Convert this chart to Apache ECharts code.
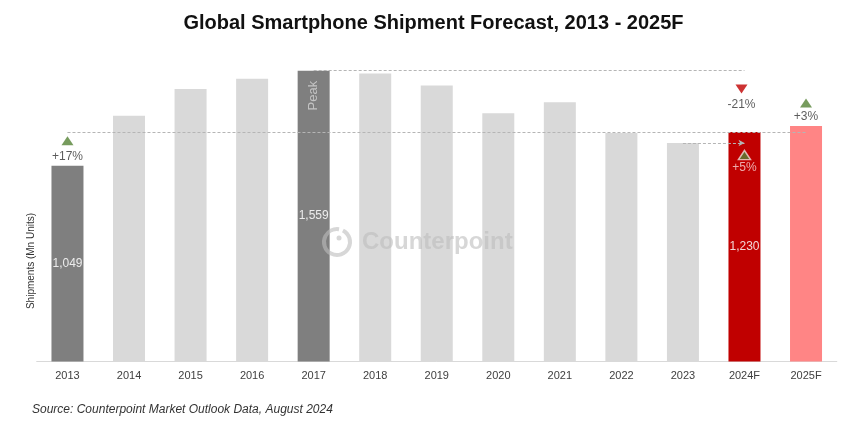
<!DOCTYPE html>
<html>
<head>
<meta charset="utf-8">
<script src="https://cdn.jsdelivr.net/npm/echarts@6/dist/echarts.min.js"></script>
<style>
html,body{margin:0;padding:0;background:#fff;}
#c{width:867px;height:433px;}
</style>
</head>
<body>
<div id="c"></div>
<script>
// ---- data ----
const categories = ['2013','2014','2015','2016','2017','2018','2019','2020','2021','2022','2023','2024F','2025F'];
const shipments = [1049, 1317, 1460, 1515, 1559, 1544, 1480, 1330, 1389, 1225, 1171, 1230, 1262];
const valueLabelCats = ['2013', '2017', '2024F'];
const peakCat = '2017';
const growthCats = ['2013', '2024F', '2024F', '2025F'];
const growthTexts = ['+17%', '-21%', '+5%', '+3%'];
const growthDirs = ['up', 'down', 'up', 'up'];
const titleText = 'Global Smartphone Shipment Forecast, 2013 - 2025F';
const yAxisName = 'Shipments (Mn Units)';
const sourceText = 'Source: Counterpoint Market Outlook Data, August 2024';

// ---- styles ----
const FONT = '"Liberation Sans", Arial, sans-serif';
function barColor(c) {
  if (c === '2013' || c === '2017') return '#7f7f7f';
  if (c === '2024F') return '#c00000';
  if (c === '2025F') return '#ff8585';
  return '#d9d9d9';
}
const idx = c => categories.indexOf(c);

// triangle / text offsets (px) relative to each bar top
const triOffsets = [[0,-25],[-3,-43],[0,23],[0,-23]];
const txtOffsets = [[0,-9],[-3,-27],[0,36],[0,-9]];

const barData = shipments.map((v, i) => {
  const c = categories[i];
  const show = valueLabelCats.indexOf(c) >= 0;
  return {
    value: v,
    itemStyle: { color: barColor(c) },
    label: {
      show: show,
      position: 'inside',
      formatter: p => p.value.toLocaleString('en-US'),
      color: c === '2024F' ? '#f3d6d6' : '#ececec',
      fontSize: 12,
      fontFamily: FONT
    }
  };
});

const triData = growthCats.map((c, k) => ({
  value: [idx(c), shipments[idx(c)]],
  symbol: 'triangle',
  symbolSize: [12, 9],
  symbolRotate: growthDirs[k] === 'down' ? 180 : 0,
  symbolOffset: triOffsets[k],
  itemStyle: growthDirs[k] === 'down'
    ? { color: '#c00000' }
    : (c === '2024F' ? { color: '#548235', borderColor: '#f2dada', borderWidth: 1.5 } : { color: '#548235' })
}));

const txtData = growthCats.map((c, k) => ({
  name: growthTexts[k],
  value: [idx(c), shipments[idx(c)]],
  label: {
    offset: txtOffsets[k],
    color: (c === '2024F' && growthDirs[k] === 'up') ? '#f6d4d4' : '#333333'
  }
}));

const lineStyleDash = { color: '#b5b5b5', type: [3, 2], width: 1 };
const WM = '#bdbdbd';

const chart = echarts.init(document.getElementById('c'), null, { renderer: 'canvas' });
chart.setOption({
  animation: false,
  backgroundColor: '#ffffff',
  title: {
    text: titleText,
    left: 'center',
    top: 8,
    textStyle: { fontSize: 20, fontWeight: 'bold', color: '#111111', fontFamily: FONT }
  },
  grid: { left: 36.7, right: 30.2, top: 63, bottom: 71.5 },
  xAxis: {
    type: 'category',
    data: categories,
    axisLine: { lineStyle: { color: '#d9d9d9', width: 1 } },
    axisTick: { show: false },
    axisLabel: { color: '#404040', fontSize: 11, margin: 9, fontFamily: FONT }
  },
  yAxis: {
    type: 'value',
    min: 0,
    max: 1600,
    show: false,
    splitLine: { show: false }
  },
  graphic: [
    {
      type: 'text',
      x: 31,
      y: 261,
      rotation: Math.PI / 2,
      style: {
        text: yAxisName,
        fill: '#333333',
        font: '10px ' + FONT,
        align: 'center',
        verticalAlign: 'middle'
      }
    },
    {
      type: 'text',
      left: 32,
      top: 404,
      style: {
        text: sourceText,
        fill: '#333333',
        font: 'italic 12px ' + FONT
      }
    },
    {
      type: 'arc',
      z: 100,
      zlevel: 1,
      shape: { cx: 337, cy: 242, r: 13, startAngle: -Math.PI * 0.35, endAngle: Math.PI * 1.55 },
      style: { stroke: WM, lineWidth: 4, fill: null, opacity: 0.6 }
    },
    {
      type: 'circle',
      z: 100,
      zlevel: 1,
      shape: { cx: 339, cy: 238, r: 2.5 },
      style: { fill: WM, opacity: 0.6 }
    },
    {
      type: 'text',
      z: 100,
      zlevel: 1,
      x: 362,
      y: 242,
      style: {
        text: 'Counterpoint',
        fill: WM,
        opacity: 0.6,
        font: 'bold 24px ' + FONT,
        verticalAlign: 'middle'
      }
    }
  ],
  series: [
    {
      type: 'bar',
      data: barData,
      barWidth: '52%',
      markLine: {
        silent: true,
        symbol: ['none', 'none'],
        label: { show: false },
        lineStyle: lineStyleDash,
        data: [
          [{ coord: [idx(peakCat), shipments[idx(peakCat)]] }, { coord: [idx('2024F'), shipments[idx(peakCat)]] }],
          [{ coord: [idx('2013'), shipments[idx('2024F')]] }, { coord: [idx('2025F'), shipments[idx('2024F')]] }],
          [{ coord: [idx('2023'), shipments[idx('2023')]], symbol: 'none' },
           { coord: [idx('2024F'), shipments[idx('2023')]], symbol: 'arrow', symbolSize: [5, 6] }]
        ]
      }
    },
    {
      type: 'scatter',
      z: 5,
      data: triData,
      silent: true
    },
    {
      type: 'scatter',
      z: 6,
      symbolSize: 0,
      silent: true,
      data: txtData,
      label: {
        show: true,
        position: 'inside',
        formatter: '{b}',
        fontSize: 12,
        fontFamily: FONT
      }
    },
    {
      type: 'scatter',
      z: 6,
      symbolSize: 0,
      silent: true,
      data: [{ name: 'Peak', value: [idx(peakCat), shipments[idx(peakCat)]] }],
      label: {
        show: true,
        position: 'inside',
        formatter: '{b}',
        rotate: 90,
        offset: [-25, 0],
        color: '#d4d4d4',
        fontSize: 13,
        fontFamily: FONT
      }
    }
  ]
});
</script>
</body>
</html>
